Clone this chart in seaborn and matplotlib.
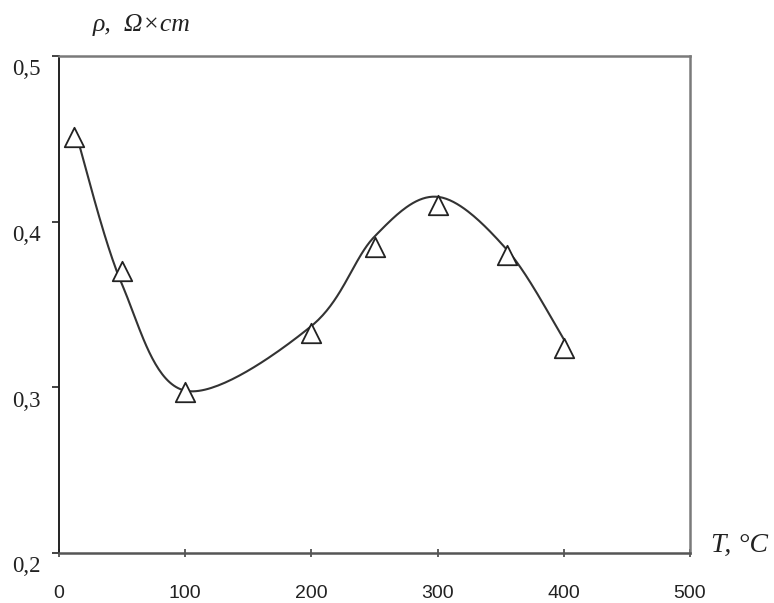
import numpy as np
import pandas as pd
import matplotlib
matplotlib.use("Agg")
import matplotlib.pyplot as plt
import seaborn as sns

# ---- data ----
temperature = [12, 50, 100, 200, 250, 300, 355, 400]          # T, °C (markers)
resistivity = [0.451, 0.370, 0.297, 0.333, 0.385, 0.410, 0.380, 0.324]  # rho, Ohm*cm

curve_T = [15, 50, 100, 200, 250, 300, 355, 400]               # smoothed trend curve knots
curve_rho = [0.449, 0.362, 0.298, 0.337, 0.391, 0.415, 0.383, 0.329]

x_ticks = [0, 100, 200, 300, 400, 500]
y_ticks = [0.2, 0.3, 0.4, 0.5]
y_tick_labels = ["0,2", "0,3", "0,4", "0,5"]

x_range = (0, 500)
y_range = (0.2, 0.5)


def smooth_curve(xs, ys, xr, yr, n=40):
    """Excel-like Bezier smoothing (Catmull-Rom) done in normalised screen units."""
    px = (np.asarray(xs, float) - xr[0]) / (xr[1] - xr[0])
    py = (np.asarray(ys, float) - yr[0]) / (yr[1] - yr[0]) * (497 / 632)
    P = np.column_stack([px, py])
    P_ext = np.vstack([P[0], P, P[-1]])
    out = []
    t = np.linspace(0, 1, n)[:, None]
    for i in range(1, len(P_ext) - 2):
        p0, p1, p2, p3 = P_ext[i - 1], P_ext[i], P_ext[i + 1], P_ext[i + 2]
        c1 = p1 + (p2 - p0) / 6
        c2 = p2 - (p3 - p1) / 6
        seg = ((1 - t) ** 3) * p1 + 3 * ((1 - t) ** 2) * t * c1 + 3 * (1 - t) * t ** 2 * c2 + t ** 3 * p2
        out.append(seg if i == 1 else seg[1:])
    S = np.vstack(out)
    sx = S[:, 0] * (xr[1] - xr[0]) + xr[0]
    sy = S[:, 1] / (497 / 632) * (yr[1] - yr[0]) + yr[0]
    return sx, sy


sns.set_style("ticks")
plt.rcParams["font.family"] = ["Liberation Sans", "DejaVu Sans"]

fig = plt.figure(figsize=(7.74, 6.03), dpi=100)
ax = fig.add_axes([59 / 774, 1 - 553 / 603, (690 - 59) / 774, (553 - 56) / 603])

sx, sy = smooth_curve(curve_T, curve_rho, x_range, y_range)
curve_df = pd.DataFrame({"T": sx, "rho": sy})
sns.lineplot(data=curve_df, x="T", y="rho", sort=False, estimator=None,
             color="#333333", linewidth=1.5, ax=ax)

pts = pd.DataFrame({"T": temperature, "rho": resistivity})
sns.scatterplot(data=pts, x="T", y="rho", marker="^", s=14 ** 2,
                facecolor="white", edgecolor="#222222", linewidth=1.3,
                ax=ax, zorder=3)

ax.set_xlim(*x_range)
ax.set_ylim(*y_range)
ax.set_xticks(x_ticks)
ax.set_xticklabels([str(v) for v in x_ticks])
ax.set_yticks(y_ticks)
ax.set_yticklabels([])
ax.set_xlabel("")
ax.set_ylabel("")

for lab in ax.get_xticklabels():
    lab.set_fontfamily("Liberation Sans")
    lab.set_fontsize(14)
    lab.set_color("#222222")

# y tick labels sit a little below their ticks in the reference
for val, txt in zip(y_ticks, y_tick_labels):
    ax.annotate(txt, xy=(0, val), xycoords=("axes fraction", "data"),
                xytext=(-13, -10), textcoords="offset points",
                ha="right", va="center", fontsize=16.5,
                fontfamily="Liberation Serif", color="#222222", annotation_clip=False)

ax.tick_params(axis="x", direction="inout", length=6, width=1.2, color="#444444", pad=20)
ax.tick_params(axis="y", direction="out", length=5, width=1.2, color="#222222", pad=8)

for side, col, lw in [("left", "#222222", 1.4), ("bottom", "#555555", 1.8),
                      ("top", "#7a7a7a", 1.8), ("right", "#7a7a7a", 1.8)]:
    ax.spines[side].set_visible(True)
    ax.spines[side].set_color(col)
    ax.spines[side].set_linewidth(lw)

fig.text(142 / 774, 1 - 25 / 603, "ρ,  Ω×cm", ha="center", va="center",
         fontsize=18.5, fontfamily="Liberation Serif", style="italic", color="#222222")
fig.text(711 / 774, 1 - 545 / 603, "T, °C", ha="left", va="center",
         fontsize=20, fontfamily="Liberation Serif", style="italic", color="#222222")

fig.savefig("out.png", dpi=100, facecolor="white")
